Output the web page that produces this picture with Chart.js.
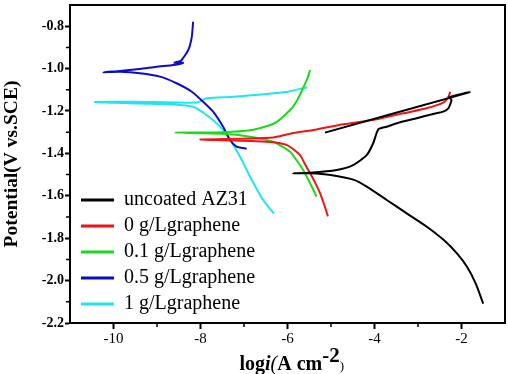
<!DOCTYPE html>
<html><head><meta charset="utf-8">
<script src="https://cdn.jsdelivr.net/npm/chart.js@4.4.1/dist/chart.umd.min.js"></script>
<style>html,body{margin:0;padding:0;background:#fff;}canvas{display:block;}</style>
</head><body>
<canvas id="c" width="508" height="374"></canvas>
<script>
// ---- data ----
const seriesNames = ['uncoated AZ31', '0 g/Lgraphene', '0.1 g/Lgraphene', '0.5 g/Lgraphene', '1 g/Lgraphene'];

const uncoatedX = [-1.50,-1.67,-1.87,-2.10,-2.40,-2.79,-3.25,-3.71,-4.17,-4.47,-5.01,-5.48,-5.87,-5.48,-4.87,-4.49,-4.18,-4.03,-3.91,-3.72,-3.41,-3.03,-2.65,-2.42,-2.30,-2.23,-2.28,-1.82,-5.14];
const uncoatedY = [-2.109,-2.015,-1.936,-1.873,-1.810,-1.747,-1.684,-1.621,-1.558,-1.525,-1.502,-1.494,-1.494,-1.491,-1.478,-1.455,-1.408,-1.352,-1.286,-1.274,-1.253,-1.234,-1.214,-1.203,-1.187,-1.148,-1.135,-1.112,-1.302];

const g0X = [-5.07,-5.16,-5.25,-5.36,-5.48,-5.60,-5.71,-6.02,-6.48,-7.48,-8.00,-6.86,-6.33,-5.94,-5.33,-4.72,-3.95,-3.34,-2.80,-2.42,-2.30,-2.26];
const g0Y = [-1.697,-1.640,-1.588,-1.540,-1.494,-1.450,-1.408,-1.360,-1.345,-1.338,-1.334,-1.330,-1.325,-1.307,-1.287,-1.263,-1.239,-1.211,-1.187,-1.161,-1.133,-1.109];

const g01X = [-5.33,-5.48,-5.64,-5.80,-5.94,-6.33,-6.86,-7.48,-8.59,-7.48,-6.86,-6.31,-5.94,-5.78,-5.66,-5.55,-5.48];
const g01Y = [-1.604,-1.541,-1.478,-1.430,-1.392,-1.345,-1.321,-1.307,-1.302,-1.300,-1.291,-1.259,-1.195,-1.150,-1.100,-1.050,-1.007];

const g05X = [-6.94,-7.17,-7.32,-7.48,-7.71,-7.94,-8.20,-8.55,-8.93,-9.39,-9.85,-10.23,-9.85,-9.39,-9.01,-8.63,-8.40,-8.60,-8.47,-8.43,-8.28,-8.20,-8.17];
const g05Y = [-1.378,-1.368,-1.337,-1.274,-1.203,-1.156,-1.109,-1.069,-1.038,-1.022,-1.015,-1.017,-1.011,-1.002,-0.991,-0.983,-0.973,-0.973,-0.965,-0.959,-0.912,-0.850,-0.779];

const g1X = [-6.31,-6.56,-6.86,-7.09,-7.32,-7.55,-7.86,-8.17,-8.63,-9.39,-10.43,-9.55,-8.09,-7.86,-7.25,-6.77,-6.00,-5.545];
const g1Y = [-1.684,-1.620,-1.510,-1.416,-1.337,-1.274,-1.219,-1.180,-1.169,-1.165,-1.158,-1.156,-1.160,-1.140,-1.133,-1.125,-1.109,-1.088];

const xTickValues = [-10, -8, -6, -4, -2];
const xTickLabels = ['-10', '-8', '-6', '-4', '-2'];
const xMinorTicks = [-9, -7, -5, -3];
const yTickValues = [-2.2, -2.0, -1.8, -1.6, -1.4, -1.2, -1.0, -0.8];
const yTickLabels = ['-2.2', '-2.0', '-1.8', '-1.6', '-1.4', '-1.2', '-1.0', '-0.8'];
const yMinorTicks = [-2.1, -1.9, -1.7, -1.5, -1.3, -1.1, -0.9];
const xTitleParts = ['log', 'i', '(', 'A cm', '-2', ')'];
const yTitle = 'Potential(V vs.SCE)';

// ---- presentation ----
const SERIF = '"Liberation Serif", "Times New Roman", serif';
const colors = ['#000000', '#f01414', '#19dc19', '#0c0cc8', '#1ee6f0'];
const seriesX = [uncoatedX, g0X, g01X, g05X, g1X];
const seriesY = [uncoatedY, g0Y, g01Y, g05Y, g1Y];
const toPoints = (xs, ys) => xs.map((x, i) => ({x: x, y: ys[i]}));

const datasets = seriesNames.map((name, i) => ({
  label: name,
  data: toPoints(seriesX[i], seriesY[i]),
  showLine: true,
  borderColor: colors[i],
  backgroundColor: colors[i],
  borderWidth: 2,
  pointRadius: 0,
  pointHoverRadius: 0,
  tension: 0.2,
  fill: false
}));

const noPad = s => { s.paddingTop = 0; s.paddingBottom = 0; s.paddingLeft = 0; s.paddingRight = 0; };

const decor = {
  id: 'decor',
  afterLayout(chart) {
    const lg = chart.legend;
    if (lg) {
      const w = lg.width, h = lg.height;
      lg.left = 75; lg.right = 75 + w;
      lg.bottom = 320; lg.top = lg.bottom - h;
    }
  },
  afterDraw(chart) {
    const ctx = chart.ctx, xs = chart.scales.x, ys = chart.scales.y, ca = chart.chartArea;
    ctx.save();
    ctx.strokeStyle = '#000';
    ctx.lineWidth = 1.5;
    ctx.beginPath();
    xMinorTicks.forEach(v => {
      const p = xs.getPixelForValue(v);
      ctx.moveTo(p, ca.bottom); ctx.lineTo(p, ca.bottom + 4);
    });
    yMinorTicks.forEach(v => {
      const p = ys.getPixelForValue(v);
      ctx.moveTo(ca.left, p); ctx.lineTo(ca.left - 4, p);
    });
    ctx.stroke();
    // x-axis title with mixed styles
    const styles = [
      {font: 'bold 20px ' + SERIF, dy: 0},
      {font: 'italic bold 20px ' + SERIF, dy: 0},
      {font: 'italic 20px ' + SERIF, dy: 0},
      {font: 'bold 20px ' + SERIF, dy: 0},
      {font: 'bold 21px ' + SERIF, dy: -8},
      {font: '13px ' + SERIF, dy: 0}
    ];
    let total = 0;
    const widths = xTitleParts.map((t, i) => { ctx.font = styles[i].font; const w = ctx.measureText(t).width; total += w; return w; });
    let x = 291.7 - total / 2;
    const base = 370;
    ctx.fillStyle = '#000';
    ctx.textBaseline = 'alphabetic';
    ctx.textAlign = 'left';
    xTitleParts.forEach((t, i) => {
      ctx.font = styles[i].font;
      ctx.fillText(t, x, base + styles[i].dy);
      x += widths[i];
    });
    ctx.restore();
  }
};

new Chart(document.getElementById('c'), {
  type: 'scatter',
  data: {datasets: datasets},
  plugins: [decor],
  options: {
    responsive: false,
    animation: false,
    devicePixelRatio: 1,
    layout: {padding: 0},
    plugins: {
      tooltip: {enabled: false},
      legend: {
        position: 'chartArea',
        align: 'end',
        labels: {
          usePointStyle: true,
          pointStyle: 'line',
          pointStyleWidth: 33,
          padding: 6,
          color: '#000',
          font: {family: SERIF, size: 20},
          generateLabels(chart) {
            const items = Chart.defaults.plugins.legend.labels.generateLabels(chart);
            items.forEach(it => { it.lineWidth = 3; });
            return items;
          }
        }
      }
    },
    scales: {
      x: {
        type: 'linear', position: 'bottom', min: -11, max: -1,
        afterBuildTicks: s => { s.ticks = xTickValues.map(v => ({value: v})); },
        afterFit: s => { s.height = 51; noPad(s); },
        ticks: {
          autoSkip: false, maxRotation: 0, padding: 1, color: '#000',
          font: {family: SERIF, size: 15},
          callback: (v, i) => xTickLabels[i]
        },
        grid: {drawOnChartArea: false, drawTicks: true, tickLength: 6, tickWidth: 2, tickColor: '#000'},
        border: {display: true, color: '#000', width: 2},
        title: {display: false}
      },
      y: {
        type: 'linear', position: 'left', min: -2.2, max: -0.7,
        afterBuildTicks: s => { s.ticks = yTickValues.map(v => ({value: v})); },
        afterFit: s => { s.width = 70; noPad(s); },
        ticks: {
          autoSkip: false, padding: 1, color: '#000',
          font: {family: SERIF, size: 14, weight: 'bold'},
          callback: (v, i) => yTickLabels[i]
        },
        grid: {drawOnChartArea: false, drawTicks: true, tickLength: 5, tickWidth: 2, tickColor: '#000'},
        border: {display: true, color: '#000', width: 2},
        title: {display: true, text: yTitle, color: '#000', padding: {top: 0, bottom: 0},
          font: {family: SERIF, size: 19.5, weight: 'bold'}}
      },
      x2: {
        type: 'linear', position: 'top', min: -11, max: -1,
        afterFit: s => { s.height = 5; noPad(s); },
        ticks: {display: false},
        grid: {drawOnChartArea: false, drawTicks: false},
        border: {display: true, color: '#000', width: 2}
      },
      y2: {
        type: 'linear', position: 'right', min: -2.2, max: -0.7,
        afterFit: s => { s.width = 3; noPad(s); },
        ticks: {display: false},
        grid: {drawOnChartArea: false, drawTicks: false},
        border: {display: true, color: '#000', width: 2}
      }
    }
  }
});
</script>
</body></html>
